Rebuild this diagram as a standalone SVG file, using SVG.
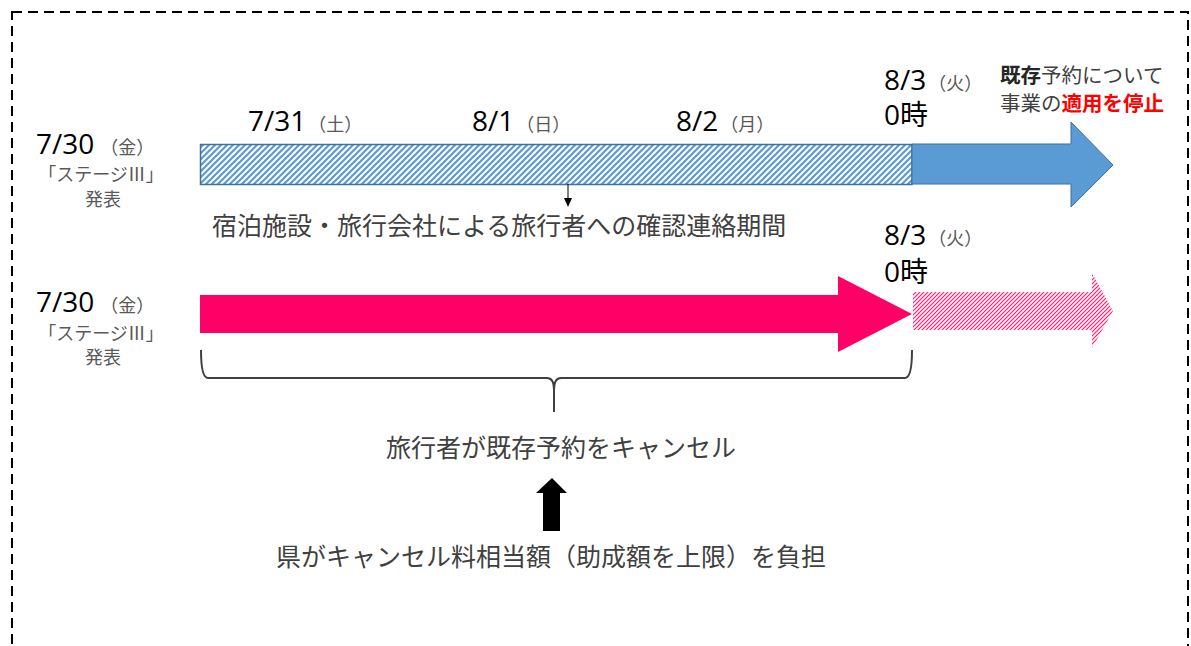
<svg xmlns="http://www.w3.org/2000/svg" width="1191" height="646" viewBox="0 0 1191 646">
<style>
.jp{font-family:"Noto Sans CJK JP","Noto Sans",sans-serif;}
.num{font-family:"Open Sans","Noto Sans CJK JP",sans-serif;font-size:28px;fill:#000;}
.day{font-family:"Noto Sans CJK JP",sans-serif;font-size:18px;fill:#595959;}
.sub{font-family:"Noto Sans CJK JP",sans-serif;font-size:18px;fill:#595959;}
.desc{font-family:"Noto Sans CJK JP",sans-serif;font-size:25px;fill:#404040;}
</style>
<defs>
<pattern id="blueHatch" patternUnits="userSpaceOnUse" width="6" height="6">
<rect width="6" height="6" fill="#fff"/>
<path d="M-1.5,1.5 l3,-3 M0,6 l6,-6 M4.5,7.5 l3,-3" stroke="#5B9BD5" stroke-width="2.2"/>
</pattern>
<pattern id="pinkHatch" patternUnits="userSpaceOnUse" width="4" height="4">
<rect width="4" height="4" fill="#fff"/>
<path d="M-1,1 l2,-2 M0,4 l4,-4 M3,5 l2,-2" stroke="#FF1A75" stroke-width="1.2"/>
</pattern>
</defs>
<rect width="1191" height="646" fill="#fff"/>
<rect id="frame" x="12" y="12" width="1176" height="700" fill="none" stroke="#000" stroke-width="2" stroke-dasharray="10 6"/>

<g id="row1-left">
<text x="36" y="154"><tspan class="num">7/30</tspan><tspan class="day" font-size="19" dx="6">（金）</tspan></text>
<text class="sub" x="101" y="181" text-anchor="middle">「ステージⅢ」</text>
<text class="sub" x="103" y="206" text-anchor="middle" font-size="19">発表</text>
</g>
<g id="dates">
<text x="248" y="131"><tspan class="num">7/31</tspan><tspan class="day" dx="2">（土）</tspan></text>
<text x="472" y="131"><tspan class="num">8/1</tspan><tspan class="day" dx="2">（日）</tspan></text>
<text x="676" y="131"><tspan class="num">8/2</tspan><tspan class="day" dx="2">（月）</tspan></text>
<text x="884" y="90"><tspan class="num">8/3</tspan><tspan class="day" dx="2">（火）</tspan></text>
<text class="num" x="884" y="125">0時</text>
</g>
<g id="stop-note">
<text class="jp" x="1000" y="83" font-size="20.5"><tspan font-weight="bold" fill="#262626">既存</tspan><tspan fill="#404040">予約について</tspan></text>
<text class="jp" x="1000" y="111" font-size="20.5"><tspan fill="#404040">事業の</tspan><tspan font-weight="bold" fill="#FF0000">適用を停止</tspan></text>
</g>
<g id="hatched-bar">
<rect x="200.5" y="144.5" width="711.5" height="40" fill="url(#blueHatch)" stroke="#41719C" stroke-width="1.5"/>
</g>
<g id="blue-arrow">
<polygon points="912,144 1071,144 1071,122 1113,165 1071,207 1071,184 912,184" fill="#5B9BD5" stroke="#41719C" stroke-width="1"/>
</g>
<g id="period-label">
<text class="desc" x="212" y="235">宿泊施設・旅行会社による旅行者への確認連絡期間</text>
</g>

<g id="row2-left">
<text x="36" y="312"><tspan class="num">7/30</tspan><tspan class="day" font-size="19" dx="6">（金）</tspan></text>
<text class="sub" x="101" y="340" text-anchor="middle">「ステージⅢ」</text>
<text class="sub" x="103" y="364" text-anchor="middle" font-size="19">発表</text>
</g>
<g id="row2-date">
<text x="884" y="245"><tspan class="num">8/3</tspan><tspan class="day" dx="2">（火）</tspan></text>
<text class="num" x="884" y="282">0時</text>
</g>
<g id="pink-arrow">
<polygon points="200,295 838,295 838,276 912,314 838,352 838,333 200,333" fill="#FF0066"/>
</g>
<g id="pink-hatched-arrow">
<polygon points="913,292 1092,292 1092,273 1113,311 1092,348 1092,330 913,330" fill="url(#pinkHatch)"/>
</g>
<g id="cancel-label">
<text class="desc" x="386" y="457">旅行者が既存予約をキャンセル</text>
</g>
<g id="burden-label">
<text class="desc" x="276" y="566">県がキャンセル料相当額（助成額を上限）を負担</text>
</g>

<g id="connectors">
<line x1="568" y1="184" x2="568" y2="199" stroke="#000" stroke-width="1"/>
<polygon points="564,198 572,198 568,207" fill="#000"/>
<path d="M201,350 Q201,378 208,378 L547,378 Q554,378 554,390 L554,412 M554,390 Q554,378 561,378 L905,378 Q912,378 912,350" fill="none" stroke="#404040" stroke-width="2"/>
<polygon points="552,478 536,493 543,493 543,531 560,531 560,493 567,493" fill="#000"/>
</g>
</svg>
